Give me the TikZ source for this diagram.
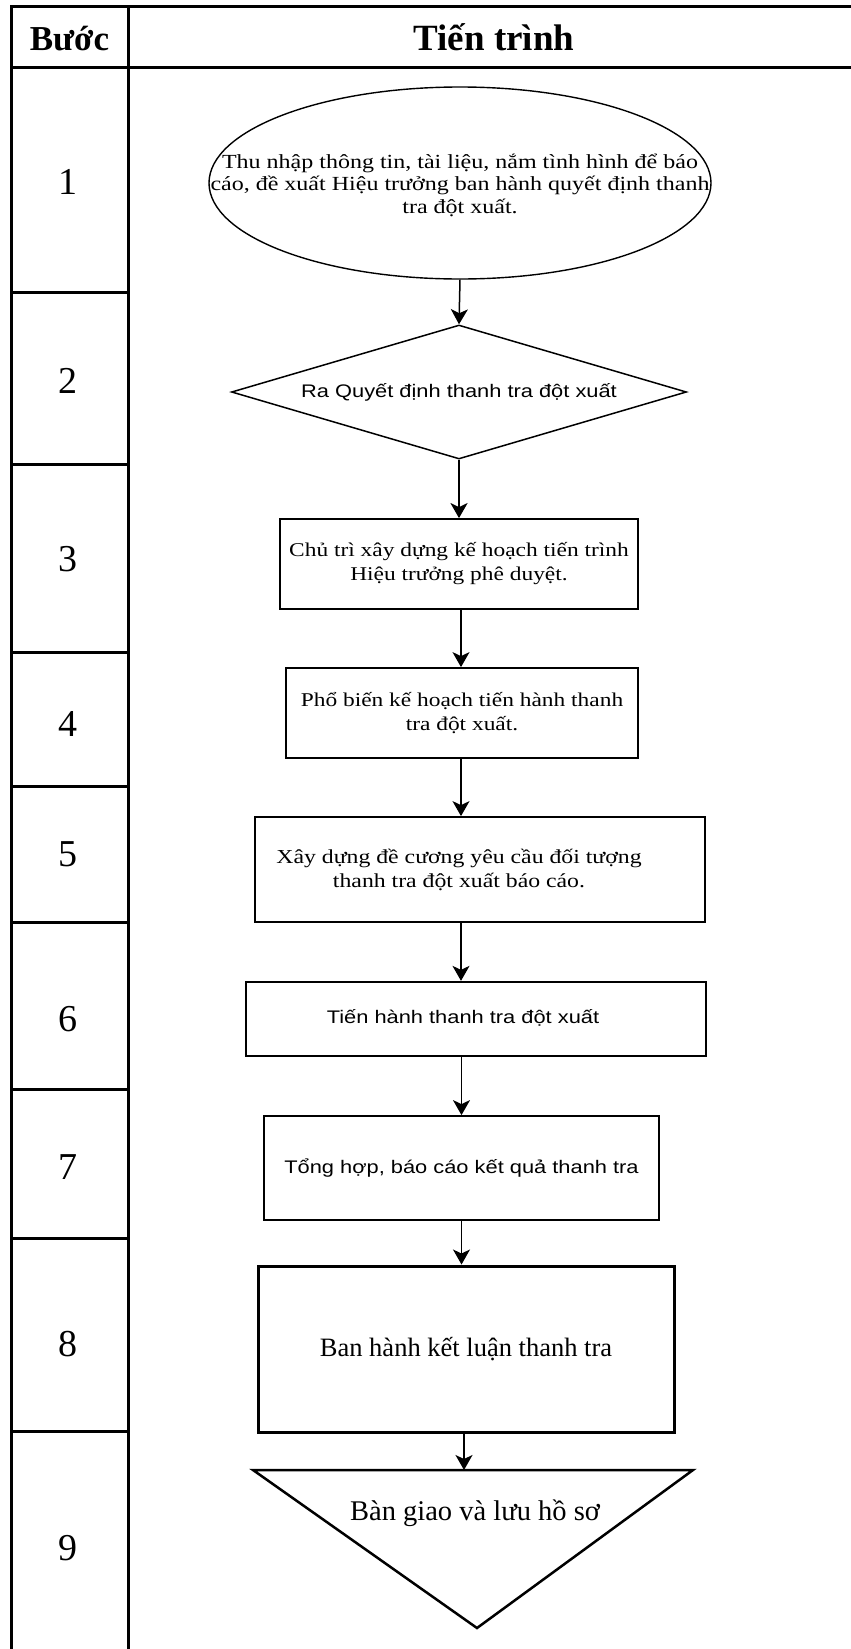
\documentclass[tikz,border=0pt]{standalone}
\usepackage{fontspec}
\setmainfont{Liberation Serif}
\newfontfamily\fserif{Liberation Serif}[FakeStretch=1.2]
\newfontfamily\fsans{Liberation Sans}[FakeStretch=1.2]
\usetikzlibrary{shapes.geometric,arrows.meta}
\begin{document}
\begin{tikzpicture}[x=1pt,y=-1pt,
  tbl/.style={line width=3pt},
  box/.style={draw, line width=1.8pt, rectangle, inner sep=0pt, align=center},
  arr/.style={line width=1.5pt, -{Stealth[length=15pt,width=17pt,inset=4pt]}},
  num/.style={font=\fontsize{38}{40}\selectfont, anchor=base},
  hd/.style={font=\bfseries\fontsize{35}{40}\selectfont, anchor=base},
  stxt/.style={font=\fserif\fontsize{19.5}{24}\selectfont, align=center},
  sstxt/.style={font=\fsans\fontsize{18.2}{22}\selectfont, align=center}]
\useasboundingbox (0,0) rectangle (851,1649);
% table
\draw[tbl] (11,1649) -- (11,6) -- (851,6);
\draw[tbl] (128,6) -- (128,1649);
\draw[tbl] (11,67) -- (851,67);
\foreach \y in {292.7,464,652,786,922.5,1089,1238,1431.7} \draw[tbl] (11,\y) -- (128,\y);
% header
\node[hd] (hb) at (69.5,50) {Bước};
\node[hd, font=\bfseries\fontsize{37}{40}\selectfont] (ht) at (494,50) {Tiến trình};
% step numbers
\node[num] (n1) at (68,194) {1};
\node[num] (n2) at (68,393) {2};
\node[num] (n3) at (68,571) {3};
\node[num] (n4) at (68,736) {4};
\node[num] (n5) at (68,866) {5};
\node[num] (n6) at (68,1031) {6};
\node[num] (n7) at (68,1179) {7};
\node[num] (n8) at (68,1356) {8};
\node[num] (n9) at (68,1560) {9};
% column for arrows
\coordinate (col) at (461,0);
% step 1
\node[draw, ellipse, line width=1.4pt, minimum width=502pt, minimum height=192pt, inner sep=0pt] (e1) at (460,183) {};
\node[stxt, font=\fserif\fontsize{20}{22.5}\selectfont] (t1) at (460,185) {Thu nhập thông tin, tài liệu, nắm tình hình để báo\\cáo, đề xuất Hiệu trưởng ban hành quyết định thanh\\tra đột xuất.};
% step 2
\node[draw, diamond, aspect=3.4, line width=1.5pt, minimum width=455pt, minimum height=134pt, inner sep=0pt, sstxt] (d2) at (459,392) {Ra Quyết định thanh tra đột xuất};
% step 3
\node[box, minimum width=358pt, minimum height=90pt, stxt] (b3) at (459,564) {Chủ trì xây dựng kế hoạch tiến trình\\Hiệu trưởng phê duyệt.};
% step 4
\node[box, minimum width=352pt, minimum height=90pt, stxt] (b4) at (462,713) {Phổ biến kế hoạch tiến hành thanh\\tra đột xuất.};
% step 5
\node[box, minimum width=450pt, minimum height=105pt] (b5) at (480,869.5) {};
\node[stxt, font=\fserif\fontsize{19.8}{24}\selectfont] (t5) at (459,870) {Xây dựng đề cương yêu cầu đối tượng\\thanh tra đột xuất báo cáo.};
% step 6
\node[box, minimum width=460pt, minimum height=74.5pt] (b6) at (476,1019) {};
\node[sstxt] (t6) at (463,1018) {Tiến hành thanh tra đột xuất};
% step 7
\node[box, minimum width=395pt, minimum height=104pt, sstxt] (b7) at (461.5,1168) {Tổng hợp, báo cáo kết quả thanh tra};
% step 8
\node[box, line width=3pt, minimum width=416pt, minimum height=166pt, font=\fontsize{26.5}{30}\selectfont] (b8) at (466,1349) {Ban hành kết luận thanh tra};
% step 9
\coordinate (triL) at (253,1470);
\coordinate (triR) at (693,1470);
\coordinate (triB) at (477,1628);
\coordinate (tri) at (464,1470);
\draw[line width=2.5pt, line join=miter] (triL) -- (triR) -- (triB) -- cycle;
\node[font=\fontsize{28.5}{32}\selectfont] (t9) at (475,1513) {Bàn giao và lưu hồ sơ};
% arrows
\draw[arr] (e1.south) -- (d2.north);
\draw[arr, line width=2.4pt] (d2.south) -- (b3.north);
\draw[arr] (b3.south -| col) -- (b4.north -| col);
\draw[arr] (b4.south -| col) -- (b5.north -| col);
\draw[arr] (b5.south -| col) -- (b6.north -| col);
\draw[arr] (b6.south -| b7) -- (b7.north);
\draw[arr] (b7.south) -- (b8.north -| b7);
\draw[arr, line width=1.2pt] (b8.south -| tri) -- (tri);
\end{tikzpicture}
\end{document}
